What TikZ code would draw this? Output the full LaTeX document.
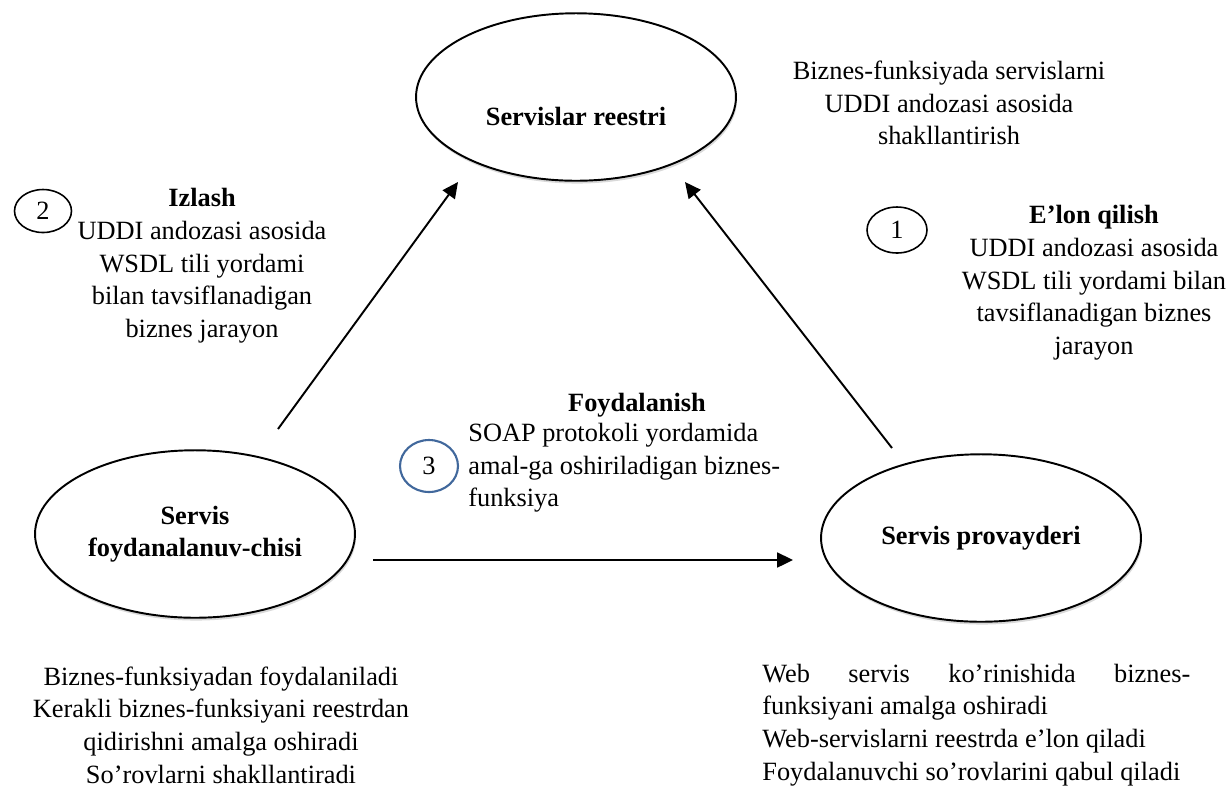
\documentclass[tikz,border=0pt]{standalone}
\usepackage{fontspec}
\setmainfont{Liberation Serif}
\usetikzlibrary{shapes.geometric, arrows.meta, shadows}
\definecolor{stepblue}{HTML}{41689C}
\tikzset{
  entity/.style={draw, ellipse, line width=1.1pt, fill=white, minimum width=6.4cm, minimum height=3.35cm,
    align=center, font=\fontsize{15}{18.5}\selectfont\bfseries,
    drop shadow={shadow xshift=0.6pt, shadow yshift=-1.6pt, opacity=0.3}}
}
\tikzset{
  stepno/.style={draw, ellipse, line width=0.9pt, inner sep=0pt, minimum width=1.16cm, minimum height=0.88cm,
    font=\fontsize{15}{18}\selectfont}
}
\tikzset{
  bodytext/.style={inner sep=0pt, align=center, font=\fontsize{15}{18.6}\selectfont}
}
\tikzset{
  flow/.style={line width=1.1pt, -{Triangle[length=9pt, width=8.5pt]}}
}
\begin{document}
\begin{tikzpicture}[x=0.02cm, y=-0.02cm]
  \useasboundingbox (0,0) rectangle (1231,796);
  % three parties
  \node[entity, text height=1.15cm] (reg) at (576,97) {Servislar reestri};
  \node[entity] (user) at (195,534) {Servis\\foydanalanuv-chisi};
  \node[entity] (prov) at (981,538) {Servis provayderi};
  % arrows
  \coordinate (izA) at (278,429);
  \coordinate (izB) at (458,182);
  \coordinate (elA) at (892,448);
  \coordinate (elB) at (685,182);
  \coordinate (foA) at (373,560);
  \coordinate (foB) at (793,560);
  \draw[flow] (izA) -- (izB);
  \draw[flow] (elA) -- (elB);
  \draw[flow] (foA) -- (foB);
  % step numbers
  \node[stepno, minimum width=1.14cm, minimum height=0.86cm] (n2) at (43,211) {2};
  \node[stepno, minimum width=1.2cm, minimum height=0.92cm] (n1) at (897,230) {1};
  \node[stepno, draw=stepblue, line width=1.2pt, minimum height=1.04cm] (n3) at (429,466) {3};
  % texts
  \node[bodytext] (regtxt) at (949,103) {Biznes-funksiyada servislarni\\UDDI andozasi asosida\\shakllantirish};
  \node[bodytext] (iztxt) at (202,266) {\textbf{Izlash}\\UDDI andozasi asosida\\WSDL tili yordami\\bilan tavsiflanadigan\\biznes jarayon};
  \node[bodytext] (eltxt) at (1094,283) {\textbf{E’lon qilish}\\UDDI andozasi asosida\\WSDL tili yordami bilan\\tavsiflanadigan biznes\\jarayon};
  \node[bodytext] (fotitle) at (637,405) {\textbf{Foydalanish}};
  \node[bodytext, align=left, anchor=west] (fotxt) at (468,468) {SOAP protokoli yordamida\\amal-ga oshiriladigan biznes-\\funksiya};
  \node[bodytext] (usertxt) at (221,725) {Biznes-funksiyadan foydalaniladi\\Kerakli biznes-funksiyani reestrdan\\qidirishni amalga oshiradi\\So’rovlarni shakllantiradi};
  \node[bodytext, align=left, anchor=west] (provtxt) at (762,725) {\makebox[8.56cm][s]{Web servis ko’rinishida biznes-}\\funksiyani amalga oshiradi\\Web-servislarni reestrda e’lon qiladi\\Foydalanuvchi so’rovlarini qabul qiladi};
\end{tikzpicture}
\end{document}
